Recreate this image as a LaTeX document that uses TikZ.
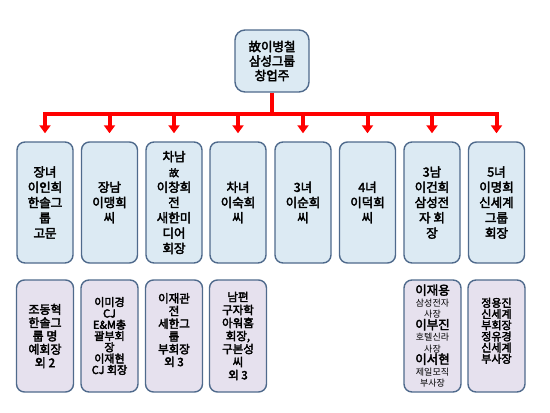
\documentclass[tikz,border=0pt]{standalone}
\usepackage{fontspec}
\setmainfont{Noto Sans CJK KR}
\newfontfamily\krbold{Noto Sans CJK KR}[FakeBold=3]
\usetikzlibrary{arrows.meta}
\definecolor{boxline}{HTML}{4F6A8C}
\definecolor{sonfill}{HTML}{DCEAF3}
\definecolor{grandfill}{HTML}{E6E1EE}

\begin{document}
\begin{tikzpicture}[x=1pt, y=-1pt,
				box/.style={draw=boxline, line width=1.4pt, rounded corners=8pt, align=center, inner sep=1pt},
				root/.style={box, fill=sonfill, rounded corners=10pt, minimum width=74pt, minimum height=62pt,
					font=\krbold\fontsize{12.5}{14.5}\selectfont},
				son/.style={box, fill=sonfill, minimum width=56pt, minimum height=121pt,
					font=\krbold\fontsize{12.5}{15.3}\selectfont},
				grand/.style={box, fill=grandfill, minimum width=57pt, minimum height=112pt},
				link/.style={red, line width=4pt}
				]
				\useasboundingbox (0,0) rectangle (550,413);
				% founder
				\node[root] (top) at (272,61) {故이병철\\삼성그룹\\창업주};
				% children
				\node[son] (d1) at (45,202.5) {장녀\\이인희\\한솔그\\룹\\고문};
				\node[son] (d2) at (109.5,202.5) {장남\\이맹희\\씨};
				\node[son] (d3) at (174,202.5) {차남\\{\fontsize{10}{15.3}\selectfont 故}\\이창희\\전\\새한미\\디어\\회장};
				\node[son] (d4) at (238,202.5) {차녀\\이숙희\\씨};
				\node[son] (d5) at (303,202.5) {3녀\\이순희\\씨};
				\node[son] (d6) at (367.5,202.5) {4녀\\이덕희\\씨};
				\node[son] (d7) at (432,202.5) {3남\\이건희\\삼성전\\자 회\\장};
				\node[son] (d8) at (496.5,202.5) {5녀\\이명희\\신세계\\그룹\\회장};
				% grandchildren
				\node[grand, font=\krbold\fontsize{12}{13.3}\selectfont] (g1) at (45,336) {조동혁\\한솔그\\룹 명\\예회장\\외 2};
				\node[grand, font=\krbold\fontsize{11}{11.3}\selectfont] (g2) at (109.5,336) {이미경\\CJ\\E\&M총\\괄부회\\장\\이재현\\CJ 회장};
				\node[grand, font=\krbold\fontsize{11.5}{12.7}\selectfont] (g3) at (174,336) {이재관\\전\\세한그\\룹\\부회장\\외 3\\\mbox{}};
				\node[grand, font=\krbold\fontsize{11.5}{13}\selectfont] (g4) at (238,336) {남편\\구자학\\아워홈\\회장,\\구본성\\씨\\외 3};
				\node[grand, font=\fontsize{9}{11.5}\selectfont] (g7) at (432.5,336) {{\krbold\fontsize{12.5}{11.5}\selectfont 이재용}\\삼성전자\\사장\\{\krbold\fontsize{12.5}{11.5}\selectfont 이부진}\\호텔신라\\사장\\{\krbold\fontsize{12.5}{11.5}\selectfont 이서현}\\제일모직\\부사장};
				\node[grand, font=\krbold\fontsize{11}{11.2}\selectfont] (g8) at (496.5,336) {정용진\\신세계\\부회장\\정유경\\신세계\\부사장\\\mbox{}};
				% red connectors
				\coordinate (bar) at (272,114);
				\draw[link] (top.south) -- (top.south |- bar);
				\draw[link, line cap=rect] (d1.north |- bar) -- (d8.north |- bar);
				\foreach \i in {1,...,8}
					\draw[link, -{Triangle[width=11pt,length=8pt]}, shorten >=8pt] (d\i.north |- bar) -- (d\i.north);
			\end{tikzpicture}
\end{document}
